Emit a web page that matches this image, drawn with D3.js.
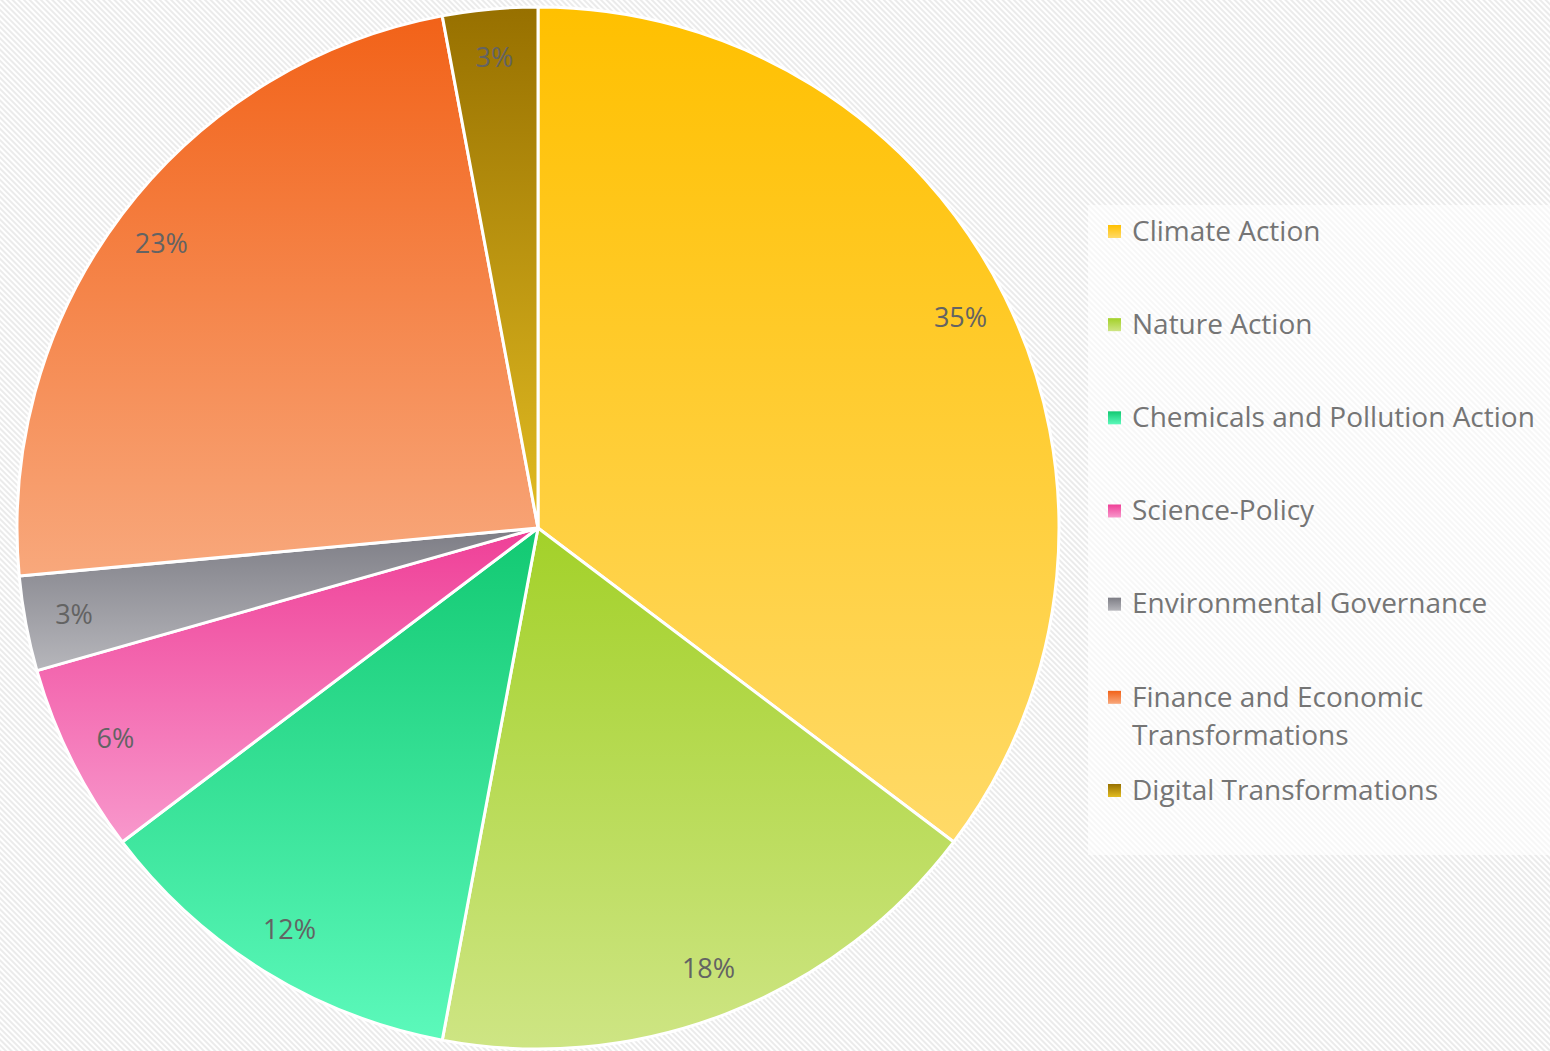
<!DOCTYPE html>
<html>
<head>
<meta charset="utf-8">
<script src="https://cdn.jsdelivr.net/npm/d3@7"></script>
<style>
  html, body { margin: 0; padding: 0; background: #fff; }
  svg { display: block; }
</style>
</head>
<body>
<div id="chart"></div>
<script>
// chart size
const WIDTH = 1550;
const HEIGHT = 1051;

// data (share of projects by area)
const categories = [
  "Climate Action",
  "Nature Action",
  "Chemicals and Pollution Action",
  "Science-Policy",
  "Environmental Governance",
  "Finance and Economic Transformations",
  "Digital Transformations",
];
const values = [12, 6, 4, 2, 1, 8, 1];
const percentLabels = ["35%", "18%", "12%", "6%", "3%", "23%", "3%"];
// legend lines (long names wrap)
const legendLines = [
  ["Climate Action"],
  ["Nature Action"],
  ["Chemicals and Pollution Action"],
  ["Science-Policy"],
  ["Environmental Governance"],
  ["Finance and Economic", "Transformations"],
  ["Digital Transformations"],
];

// top and bottom colours of each slice gradient
const topColors = ["#ffc000", "#a3d129", "#12c972", "#ef3f97", "#7d7d85", "#f26218", "#977000"];
const bottomColors = ["#ffda68", "#cee584", "#5cf9bb", "#f898cc", "#b6b6bb", "#f8a87c", "#e2bc22"];

const cx = 538, cy = 528, R = 521;
const labelR = 472;

var svg = d3
  .select("#chart")
  .append("svg")
  .attr("width", WIDTH)
  .attr("height", HEIGHT);

var defs = svg.append("defs");

// diagonal stripe background
var pat = defs
  .append("pattern")
  .attr("id", "stripes")
  .attr("patternUnits", "userSpaceOnUse")
  .attr("width", 4)
  .attr("height", 4)
  .attr("patternTransform", "rotate(-45)");
pat.append("rect").attr("width", 4).attr("height", 4).attr("fill", "#ffffff");
pat.append("rect").attr("width", 2).attr("height", 4).attr("fill", "#ebebeb");

svg.append("rect")
  .attr("width", WIDTH)
  .attr("height", HEIGHT)
  .attr("fill", "url(#stripes)");

// gradients for slices
categories.forEach(function (c, i) {
  var g = defs
    .append("linearGradient")
    .attr("id", "grad" + i)
    .attr("x1", 0).attr("y1", 0)
    .attr("x2", 0).attr("y2", 1);
  g.append("stop").attr("offset", "0%").attr("stop-color", topColors[i]);
  g.append("stop").attr("offset", "100%").attr("stop-color", bottomColors[i]);
});

var pie = d3.pie().sort(null).value(function (d) { return d; });
var arcs = pie(values);

var arc = d3.arc().innerRadius(0).outerRadius(R);
var labelArc = d3.arc().innerRadius(labelR).outerRadius(labelR);

var g = svg.append("g").attr("transform", "translate(" + cx + "," + cy + ")");

g.selectAll("path.slice")
  .data(arcs)
  .enter()
  .append("path")
  .attr("class", "slice")
  .attr("d", arc)
  .attr("fill", function (d, i) { return "url(#grad" + i + ")"; })
  .attr("stroke", "#ffffff")
  .attr("stroke-width", 3)
  .attr("stroke-linejoin", "round");

g.selectAll("text.pct")
  .data(arcs)
  .enter()
  .append("text")
  .attr("class", "pct")
  .attr("transform", function (d) {
    var c = labelArc.centroid(d);
    return "translate(" + c[0] + "," + c[1] + ")";
  })
  .attr("text-anchor", "middle")
  .attr("dy", "0.35em")
  .attr("font-family", "'Open Sans', sans-serif")
  .attr("font-size", 27)
  .attr("fill", "#636363")
  .text(function (d, i) { return percentLabels[i]; });

// legend
var legend = svg.append("g");
legend.append("rect")
  .attr("x", 1088)
  .attr("y", 205)
  .attr("width", 470)
  .attr("height", 650)
  .attr("fill", "#ffffff")
  .attr("fill-opacity", 0.6);

var rowY = d3.scalePoint().domain(d3.range(categories.length)).range([231, 790]);

var items = legend.selectAll("g.item")
  .data(categories)
  .enter()
  .append("g")
  .attr("class", "item")
  .attr("transform", function (d, i) { return "translate(1108," + rowY(i) + ")"; });

items.append("rect")
  .attr("x", 0)
  .attr("y", -6)
  .attr("width", 13)
  .attr("height", 13)
  .attr("fill", function (d, i) { return "url(#grad" + i + ")"; });

items.each(function (d, i) {
  var t = d3.select(this)
    .append("text")
    .attr("x", 24)
    .attr("y", 0)
    .attr("font-family", "'Open Sans', sans-serif")
    .attr("font-size", 28)
    .attr("fill", "#757575");
  legendLines[i].forEach(function (line, k) {
    t.append("tspan")
      .attr("x", 24)
      .attr("dy", k === 0 ? "0.35em" : 38)
      .text(line);
  });
});
</script>
</body>
</html>
